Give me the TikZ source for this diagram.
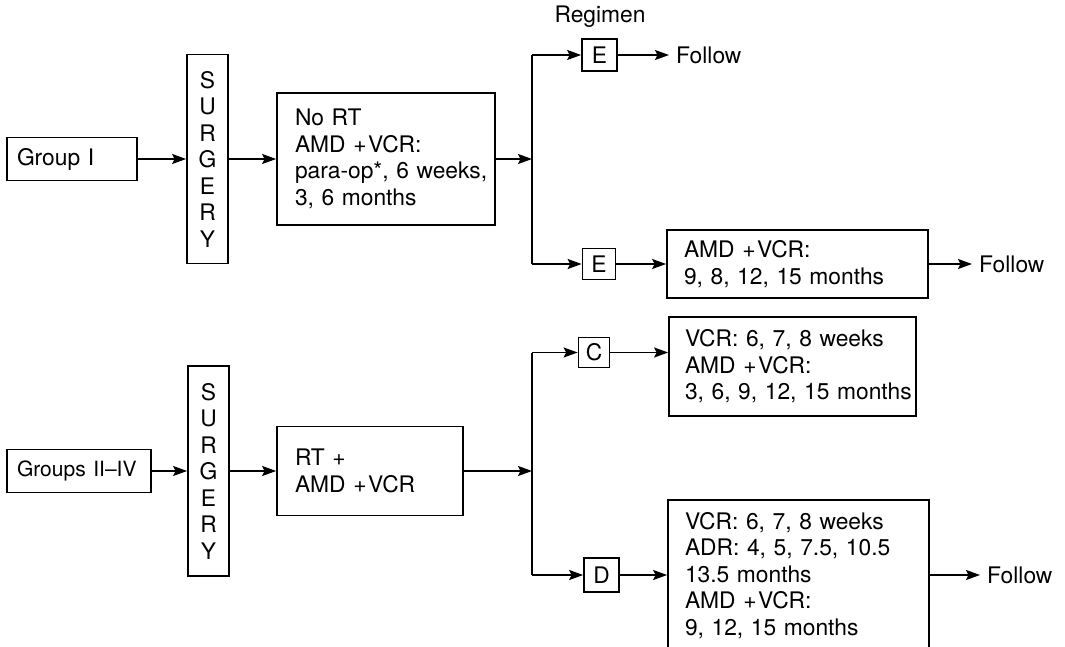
\documentclass[tikz,border=0pt]{standalone}
\usepackage{fontspec}
\setmainfont{TeX Gyre Heros}
\usetikzlibrary{arrows.meta}
\begin{document}
\begin{tikzpicture}[x=1pt,y=-1pt,
  every node/.style={font=\fontsize{22.8}{26.5}\selectfont},
  box/.style={draw, line width=1.7pt, inner ysep=0pt, align=left},
  sbox/.style={draw, line width=1.7pt, inner sep=0pt, align=center},
  follow/.style={inner ysep=0pt, inner xsep=7pt, anchor=west},
  arr/.style={line width=1.7pt, -{Stealth[length=14pt,width=10pt,inset=2.5pt]}},
  ln/.style={line width=1.7pt}]
\useasboundingbox (0,0) rectangle (1065,647);
\newcommand{\amdvcr}{AMD +\kern1.5pt VCR}
% ---------- top row ----------
\node[box, text width=110pt, inner xsep=10pt, minimum height=43pt] (grp1) at (72,159) {\mbox{Group I}};
\node[sbox, minimum width=41pt, minimum height=209pt] (surg1) at (207.5,159) {S\\U\\R\\G\\E\\R\\Y};
\node[box, text width=182pt, inner xsep=18pt, minimum height=132pt] (nort) at (386,159)
  {\mbox{No RT}\\\mbox{\amdvcr:}\\\mbox{para-op*, 6 weeks,}\\\mbox{3, 6 months}};
\coordinate (ja) at (532,159);
\coordinate (jat) at (532,55);
\coordinate (jab) at (532,264);
\node (reg) at (600,17) {Regimen};
\node[sbox, minimum width=35pt, minimum height=32pt] (e1) at (599.5,55) {E};
\node[follow] (f1) at (669,55) {Follow};
\node[sbox, minimum width=33pt, minimum height=31pt] (e2) at (599,264) {E};
\node[box, text width=227pt, inner xsep=17pt, minimum height=68pt] (box2) at (797.5,264)
  {\mbox{\amdvcr:}\\\mbox{9, 8, 12, 15 months}};
\node[follow] (f2) at (972,264) {Follow};
\draw[arr] (grp1) -- (surg1);
\draw[arr] (surg1) -- (nort);
\draw[arr] (nort) -- (ja);
\draw[ln] (jat) -- (jab);
\draw[arr] (jat) -- (e1);
\draw[arr] (jab) -- (e2);
\draw[arr] (e1) -- (f1);
\draw[arr] (e2) -- (box2);
\draw[arr] (box2) -- (f2);
% ---------- bottom row ----------
\node[box, text width=124pt, inner xsep=10pt, minimum height=43pt] (grp2) at (79,471)
  {\mbox{\fontsize{21}{26.5}\selectfont Groups II--IV}};
\node[sbox, minimum width=41pt, minimum height=210pt] (surg2) at (208.5,471) {S\\U\\R\\G\\E\\R\\Y};
\node[box, text width=150pt, inner xsep=18pt, minimum height=89pt] (rt) at (370,471)
  {\mbox{RT +}\\\mbox{\amdvcr}};
\coordinate (jb) at (532,471);
\coordinate (jbt) at (532,352.5);
\coordinate (jbb) at (532,575);
\node[sbox, minimum width=31pt, minimum height=30pt] (cc) at (594,352.5) {C};
\node[box, text width=215pt, inner xsep=16pt, minimum height=99pt] (cbox) at (792.5,366.5)
  {\mbox{VCR: 6, 7, 8 weeks}\\\mbox{\amdvcr:}\\\mbox{3, 6, 9, 12, 15 months}};
\node[sbox, minimum width=35pt, minimum height=34pt] (dd) at (601.5,575) {D};
\node[box, text width=227pt, inner xsep=17pt, minimum height=151pt] (dbox) at (798.5,575.5)
  {\mbox{VCR: 6, 7, 8 weeks}\\\mbox{ADR: 4, 5, 7.5, 10.5}\\\mbox{13.5 months}\\\mbox{\amdvcr:}\\\mbox{9, 12, 15 months}};
\node[follow] (f3) at (980,575) {Follow};
\draw[arr] (grp2) -- (surg2);
\draw[arr] (surg2) -- (rt);
\draw[arr] (rt) -- (jb);
\draw[ln] (jbt) -- (jbb);
\draw[arr] (jbt) -- (cc);
\draw[arr] (jbb) -- (dd);
\draw[arr] (cc) -- (cc -| cbox.west);
\draw[arr] (dd) -- (dd -| dbox.west);
\draw[arr] (dd -| dbox.east) -- (f3);
\end{tikzpicture}
\end{document}
